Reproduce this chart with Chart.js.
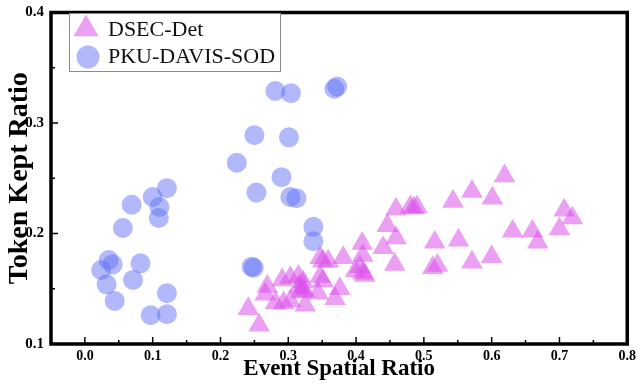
<!DOCTYPE html>
<html>
<head>
<meta charset="utf-8">
<script src="https://cdn.jsdelivr.net/npm/chart.js@4.4.1/dist/chart.umd.min.js"></script>
<style>
  html, body { margin: 0; padding: 0; background: #fff; }
</style>
</head>
<body>
<canvas id="chart" width="640" height="387"></canvas>
<script>
const seriesNames = ["DSEC-Det", "PKU-DAVIS-SOD"];

const dsecX = [
  0.241, 0.257, 0.266, 0.269, 0.281, 0.291, 0.293, 0.303, 0.303, 0.315,
  0.322, 0.316, 0.320, 0.324, 0.319, 0.325, 0.344, 0.347, 0.347, 0.351,
  0.359, 0.351, 0.369, 0.376, 0.381, 0.399, 0.406, 0.409, 0.410, 0.410,
  0.413, 0.440, 0.446, 0.457, 0.459, 0.459, 0.480, 0.485, 0.490, 0.516,
  0.513, 0.520, 0.543, 0.551, 0.571, 0.571, 0.600, 0.601, 0.619, 0.631,
  0.660, 0.668, 0.700, 0.707, 0.719,
];
const dsecY = [
  0.132, 0.117, 0.145, 0.152, 0.137, 0.158, 0.137, 0.160, 0.139, 0.161,
  0.156, 0.152, 0.150, 0.148, 0.147, 0.135, 0.146, 0.161, 0.178, 0.175,
  0.175, 0.157, 0.141, 0.150, 0.178, 0.166, 0.170, 0.191, 0.180, 0.164,
  0.162, 0.187, 0.207, 0.172, 0.196, 0.222, 0.224, 0.223, 0.224, 0.192,
  0.169, 0.171, 0.229, 0.194, 0.238, 0.174, 0.179, 0.232, 0.252, 0.202,
  0.202, 0.192, 0.204, 0.221, 0.214,
];

const pkuX = [
  0.281, 0.304, 0.368, 0.372, 0.250, 0.301, 0.224, 0.290, 0.253, 0.303,
  0.312, 0.337, 0.337, 0.246, 0.249, 0.024, 0.035, 0.041, 0.032, 0.044,
  0.082, 0.071, 0.121, 0.097, 0.121, 0.056, 0.069, 0.100, 0.110, 0.109,
  0.121,
];
const pkuY = [
  0.329, 0.327, 0.331, 0.333, 0.289, 0.287, 0.264, 0.251, 0.237, 0.233,
  0.232, 0.206, 0.193, 0.170, 0.169, 0.167, 0.176, 0.172, 0.154, 0.139,
  0.173, 0.158, 0.146, 0.126, 0.127, 0.205, 0.226, 0.233, 0.224, 0.214,
  0.241,
];

const xTicks = [0, 0.1, 0.2, 0.3, 0.4, 0.5, 0.6, 0.7, 0.8];
const yTicks = [0.1, 0.2, 0.3, 0.4];

const SERIF = "'Liberation Serif', 'Times New Roman', serif";
const DSEC_COLOR = "rgba(220, 80, 234, 0.54)";
const PKU_COLOR = "rgba(100, 115, 245, 0.5)";

function toPoints(xs, ys) {
  return xs.map((x, i) => ({ x, y: ys[i] }));
}

function drawTriangle(ctx, x, y, r) {
  ctx.beginPath();
  ctx.moveTo(x, y - r);
  ctx.lineTo(x + r * 0.866, y + r * 0.5);
  ctx.lineTo(x - r * 0.866, y + r * 0.5);
  ctx.closePath();
  ctx.fill();
}

// frame, inward ticks and the boxed legend
const framePlugin = {
  id: "frame",
  afterDatasetsDraw(chart) {
    const { ctx, chartArea: a, scales } = chart;
    ctx.save();
    ctx.strokeStyle = "#000";
    ctx.lineWidth = 1.5;
    const tick = (x1, y1, x2, y2) => {
      ctx.beginPath();
      ctx.moveTo(x1, y1);
      ctx.lineTo(x2, y2);
      ctx.stroke();
    };
    xTicks.forEach((v) => {
      const px = scales.x.getPixelForValue(v);
      tick(px, a.bottom, px, a.bottom - 7);
      if (v + 0.05 < scales.x.max) {
        const pm = scales.x.getPixelForValue(v + 0.05);
        tick(pm, a.bottom, pm, a.bottom - 4);
      }
    });
    yTicks.forEach((v) => {
      const py = scales.y.getPixelForValue(v);
      tick(a.left, py, a.left + 7, py);
      if (v + 0.05 < scales.y.max) {
        const pm = scales.y.getPixelForValue(v + 0.05);
        tick(a.left, pm, a.left + 4, pm);
      }
    });

    ctx.lineWidth = 3.5;
    ctx.strokeRect(a.left, a.top, a.right - a.left, a.bottom - a.top);

    // legend
    const lx = 69, ly = 13, lw = 211, lh = 58;
    ctx.fillStyle = "#fff";
    ctx.fillRect(lx, ly, lw, lh);
    ctx.lineWidth = 1;
    ctx.strokeStyle = "#8a8a8a";
    ctx.strokeRect(lx + 0.5, ly + 0.5, lw, lh);

    ctx.fillStyle = DSEC_COLOR;
    drawTriangle(ctx, 86, 29, 14.5);
    ctx.fillStyle = PKU_COLOR;
    ctx.beginPath();
    ctx.arc(88, 57, 11.5, 0, Math.PI * 2);
    ctx.fill();

    ctx.fillStyle = "#111";
    ctx.font = `22px ${SERIF}`;
    ctx.textBaseline = "middle";
    ctx.textAlign = "left";
    ctx.fillText(seriesNames[0], 108, 30);
    ctx.fillText(seriesNames[1], 108, 57);
    ctx.restore();
  },
};

new Chart(document.getElementById("chart"), {
  type: "scatter",
  data: {
    datasets: [
      {
        label: seriesNames[0],
        data: toPoints(dsecX, dsecY),
        pointStyle: "triangle",
        pointRadius: 12.5,
        backgroundColor: DSEC_COLOR,
        borderColor: DSEC_COLOR,
        borderWidth: 0,
      },
      {
        label: seriesNames[1],
        data: toPoints(pkuX, pkuY),
        pointStyle: "circle",
        pointRadius: 10,
        backgroundColor: PKU_COLOR,
        borderWidth: 0,
      },
    ],
  },
  options: {
    responsive: false,
    animation: false,
    events: [],
    layout: { padding: { top: 8, right: 11, left: 0, bottom: 0 } },
    plugins: {
      legend: { display: false },
      tooltip: { enabled: false },
    },
    scales: {
      x: {
        type: "linear",
        min: -0.05,
        max: 0.8,
        afterBuildTicks(axis) {
          axis.ticks = xTicks.map((value) => ({ value }));
        },
        afterFit(scale) {
          scale.height = 43;
        },
        grid: { display: false, drawTicks: false },
        border: { display: false },
        ticks: {
          color: "#000",
          padding: 4,
          maxRotation: 0,
          font: { family: SERIF, size: 14, weight: "bold" },
          callback: (v) => Number(v).toFixed(1),
        },
        title: {
          display: true,
          text: "Event Spatial Ratio",
          color: "#000",
          padding: { top: 0, bottom: 4 },
          font: { family: SERIF, size: 23, weight: "bold" },
        },
      },
      y: {
        type: "linear",
        min: 0.1,
        max: 0.4,
        afterBuildTicks(axis) {
          axis.ticks = yTicks.map((value) => ({ value }));
        },
        afterFit(scale) {
          scale.width = 51;
        },
        grid: { display: false, drawTicks: false },
        border: { display: false },
        ticks: {
          color: "#000",
          padding: 7,
          font: { family: SERIF, size: 15, weight: "bold", lineHeight: 0.4 },
          callback: (v) => Number(v).toFixed(1),
        },
        title: {
          display: true,
          text: "Token Kept Ratio",
          color: "#000",
          padding: { top: 3, bottom: 0 },
          font: { family: SERIF, size: 28, weight: "bold" },
        },
      },
    },
  },
  plugins: [framePlugin],
});
</script>
</body>
</html>
